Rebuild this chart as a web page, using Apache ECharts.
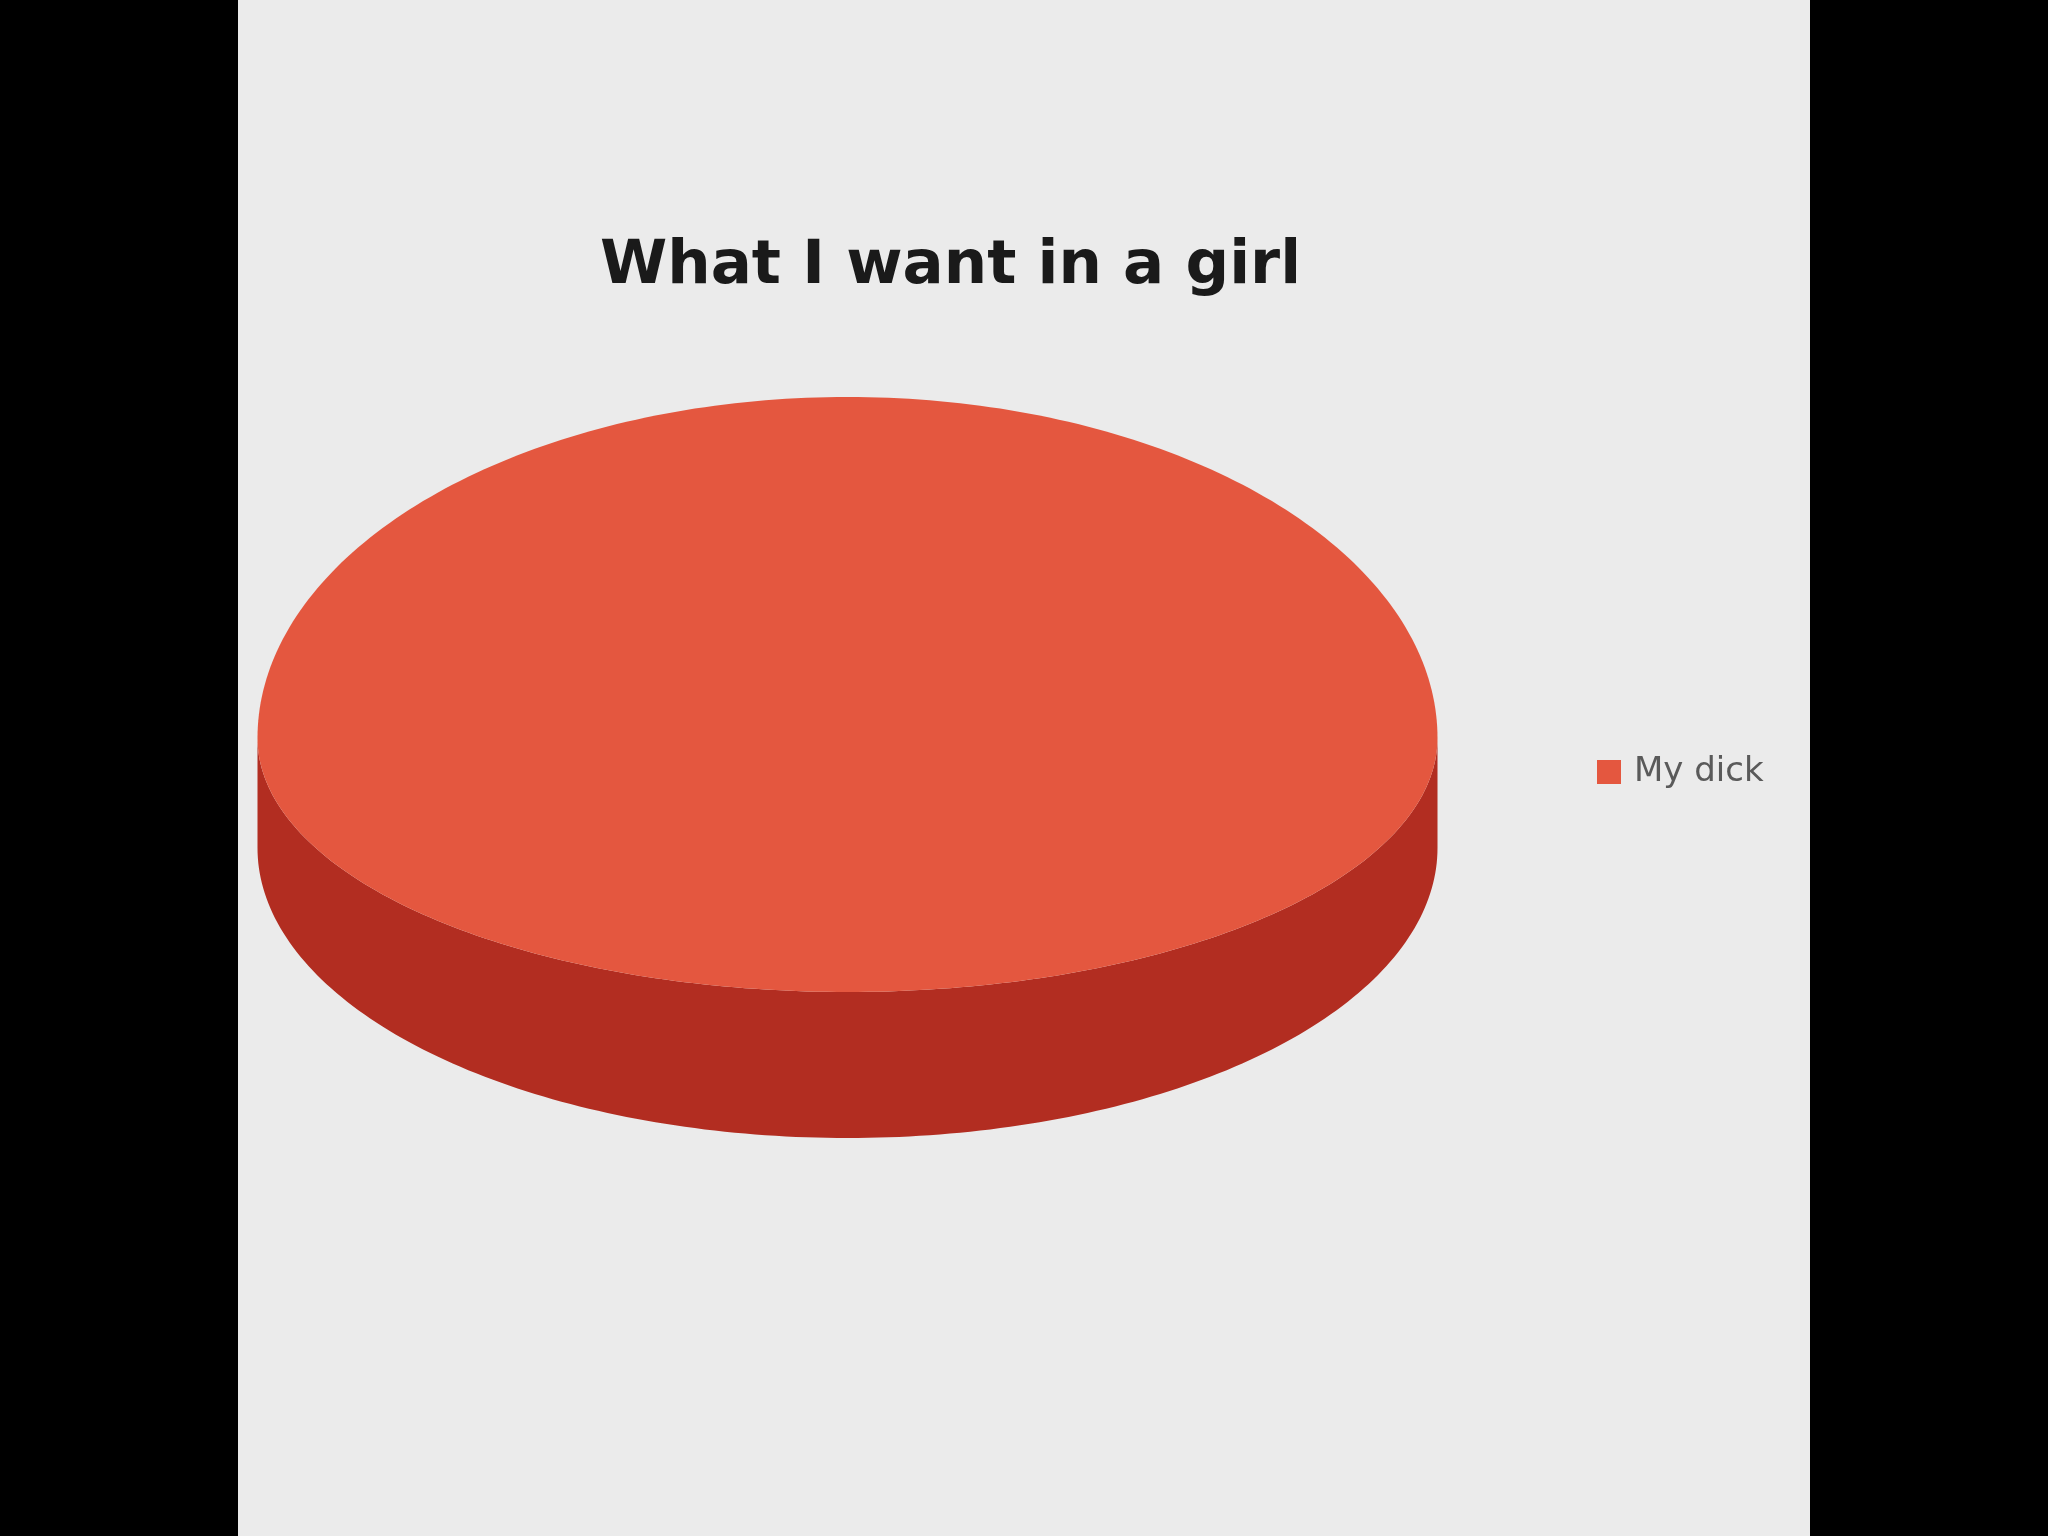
<!DOCTYPE html>
<html>
<head>
<meta charset="utf-8">
<script src="https://cdn.jsdelivr.net/npm/echarts@6/dist/echarts.min.js"></script>
<style>
  html, body { margin: 0; padding: 0; background: #000; width: 2048px; height: 1536px; overflow: hidden; }
  #chart { position: absolute; left: 238px; top: 0; width: 1572px; height: 1536px; background: #ebebeb; }
</style>
</head>
<body>
<div id="chart"></div>
<script>
// ---- data ----
const titleText = 'What I want in a girl';
const categories = ['My dick'];
const values = [100];

// ---- layout / style ----
const CX = 609.5, CY = 738, RX = 590, RY_UP = 341, RY_DOWN = 254;
const DEPTH_SIDE = 110, RY_BASE = 290;
const TOP_COLOR = '#e4573f';
const SIDE_COLOR = '#b22d21';

const total = values.reduce((a, b) => a + b, 0);
const cumBefore = values.map((v, i) => values.slice(0, i).reduce((a, b) => a + b, 0));

function topPt(t) {
  const s = Math.sin(t), c = Math.cos(t);
  return [CX + RX * c, CY - (s >= 0 ? RY_UP : RY_DOWN) * s];
}
function basePt(t) {
  const s = Math.sin(t), c = Math.cos(t);
  return [CX + RX * c, CY + DEPTH_SIDE - RY_BASE * s];
}

function renderItem(params, api) {
  const i = params.dataIndex;
  const v = api.value(0);
  const a0 = Math.PI / 2 - 2 * Math.PI * cumBefore[i] / total;
  const a1 = a0 - 2 * Math.PI * v / total;
  const full = v / total > 0.9999;
  const N = 360;
  const ts = [];
  for (let k = 0; k <= N; k++) ts.push(a0 + (a1 - a0) * k / N);

  const topPts = ts.map(topPt);
  if (!full) topPts.push([CX, CY]);

  // side: contiguous runs where the rim is at the front (sin <= 0)
  const sides = [];
  let run = [];
  ts.forEach(t => {
    if (Math.sin(t) <= 1e-9) run.push(t);
    else if (run.length) { sides.push(run); run = []; }
  });
  if (run.length) sides.push(run);

  const children = sides.filter(r => r.length > 1).map(r => ({
    type: 'polygon',
    shape: { points: r.map(topPt).concat(r.slice().reverse().map(basePt)) },
    style: { fill: SIDE_COLOR }
  }));
  children.push({
    type: 'polygon',
    shape: { points: topPts },
    style: { fill: api.visual('color') }
  });
  return { type: 'group', children };
}

const chart = echarts.init(document.getElementById('chart'), null, { renderer: 'canvas' });
chart.setOption({
  backgroundColor: '#ebebeb',
  animation: false,
  title: {
    text: titleText,
    left: 357,
    top: 232,
    textStyle: {
      fontFamily: 'DejaVu Sans',
      fontWeight: 'bold',
      fontSize: 61,
      color: '#1a1a1a'
    }
  },
  legend: {
    data: categories,
    orient: 'vertical',
    left: 1354,
    top: 750,
    icon: 'rect',
    itemWidth: 24,
    itemHeight: 24,
    textStyle: {
      fontFamily: 'DejaVu Sans',
      fontSize: 34,
      color: '#5a5a5a',
      padding: [0, 0, 0, 8]
    }
  },
  series: [{
    type: 'custom',
    name: categories[0],
    coordinateSystem: 'none',
    itemStyle: { color: TOP_COLOR },
    renderItem: renderItem,
    data: values.map((v, i) => ({ name: categories[i], value: [v] }))
  }]
});
</script>
</body>
</html>
